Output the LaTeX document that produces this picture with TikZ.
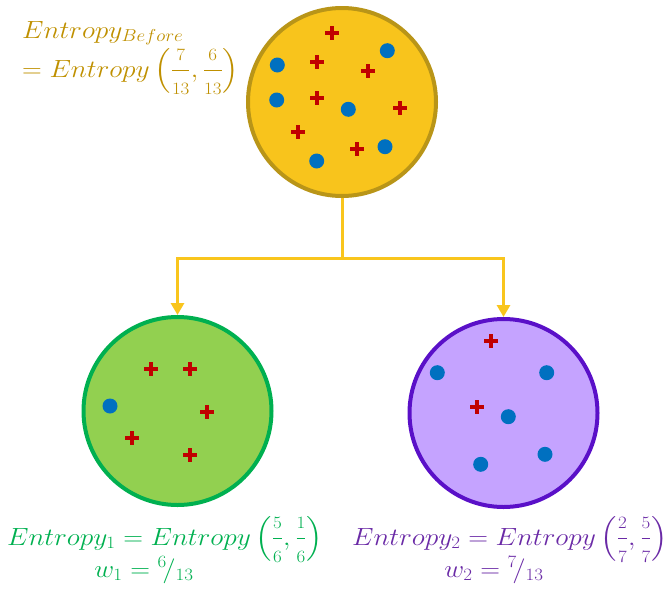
\documentclass[tikz,border=0pt]{standalone}
\usepackage{amsmath}
\usepackage{graphicx}
\usetikzlibrary{arrows.meta}

\definecolor{goldfill}{HTML}{F8C41C}
\definecolor{goldline}{HTML}{B99518}
\definecolor{goldtext}{HTML}{BF9000}
\definecolor{greenfill}{HTML}{92D050}
\definecolor{greenline}{HTML}{00B050}
\definecolor{purplefill}{HTML}{C5A3FF}
\definecolor{purpleline}{HTML}{5A10C8}
\definecolor{purpletext}{HTML}{6A2AA6}
\definecolor{dotblue}{HTML}{0070C0}
\definecolor{plusred}{HTML}{C00000}
\definecolor{arrowgold}{HTML}{F9C51D}

% equation text: slightly widened math italic
\newcommand{\eqtext}[1]{\scalebox{1.1}[1]{\fontsize{24}{28}\selectfont$#1$}}
% small-digit fraction with display spacing
\newcommand{\pfrac}[2]{\dfrac{\scriptstyle #1}{\scriptstyle #2}}

\tikzset{
  setcircle/.style={circle, minimum size=188pt, inner sep=0pt, line width=4pt},
  conn/.style={draw=arrowgold, line width=3pt,
    -{Triangle[width=13pt,length=12pt]}},
  eqlabel/.style={inner sep=0pt},
  pics/plus/.style={code={
    \fill[plusred] (-7,-2) rectangle (7,2);
    \fill[plusred] (-2,-7) rectangle (2,7);
  }},
  pics/dot/.style={code={
    \fill[dotblue] (0,0) circle[radius=7.5];
  }},
}

\begin{document}
\begin{tikzpicture}[x=1pt,y=-1pt]
\useasboundingbox (0,0) rectangle (669,595);

% the three sets
\node[setcircle, draw=goldline, fill=goldfill] (top) at (342,102) {};
\node[setcircle, draw=greenline, fill=greenfill] (left) at (177.5,411) {};
\node[setcircle, draw=purpleline, fill=purplefill] (right) at (503.5,413) {};

% split connectors
\coordinate (split) at (342,258);
\draw[conn] (top.south) -- (split) -| (left.north);
\draw[conn] (split) -| (right.north);

% members of the parent set
\foreach \p in {(331.7,33),(316.7,62.3),(368.3,71),(316.7,98.3),(400,107.7),(298.3,131.7),(356.7,149)}
  \pic at \p {plus};
\foreach \p in {(387.3,50.7),(277.3,65),(276.7,100),(348.3,109.3),(385,146.7),(316.7,161)}
  \pic at \p {dot};

% members of the first subset
\foreach \p in {(150.7,369),(190,369),(206.7,412.3),(131.7,437.7),(190,455)}
  \pic at \p {plus};
\pic at (110,406) {dot};

% members of the second subset
\foreach \p in {(491,340.7),(476.7,406.7)}
  \pic at \p {plus};
\foreach \p in {(437.3,372.7),(546.7,372.7),(508.3,416.7),(545,454.3),(480.7,464.3)}
  \pic at \p {dot};

% entropy labels
\node[eqlabel, anchor=base west, text=goldtext] (hb) at (22,38)
  {\eqtext{Entropy_{Before}}};
\node[eqlabel, anchor=base west, text=goldtext] (hbv) at (22,77)
  {\eqtext{= Entropy\left(\pfrac{7}{13},\pfrac{6}{13}\right)}};

\node[eqlabel, anchor=base, text=greenline] (h1) at (165,545)
  {\eqtext{Entropy_1 = Entropy\left(\pfrac{5}{6},\pfrac{1}{6}\right)}};
\node[eqlabel, anchor=base, text=greenline] (w1) at (144,577)
  {\eqtext{w_1 = {}^{6}\!/_{13}}};

\node[eqlabel, anchor=base, text=purpletext] (h2) at (510,545)
  {\eqtext{Entropy_2 = Entropy\left(\pfrac{2}{7},\pfrac{5}{7}\right)}};
\node[eqlabel, anchor=base, text=purpletext] (w2) at (494,577)
  {\eqtext{w_2 = {}^{7}\!/_{13}}};
\end{tikzpicture}
\end{document}
